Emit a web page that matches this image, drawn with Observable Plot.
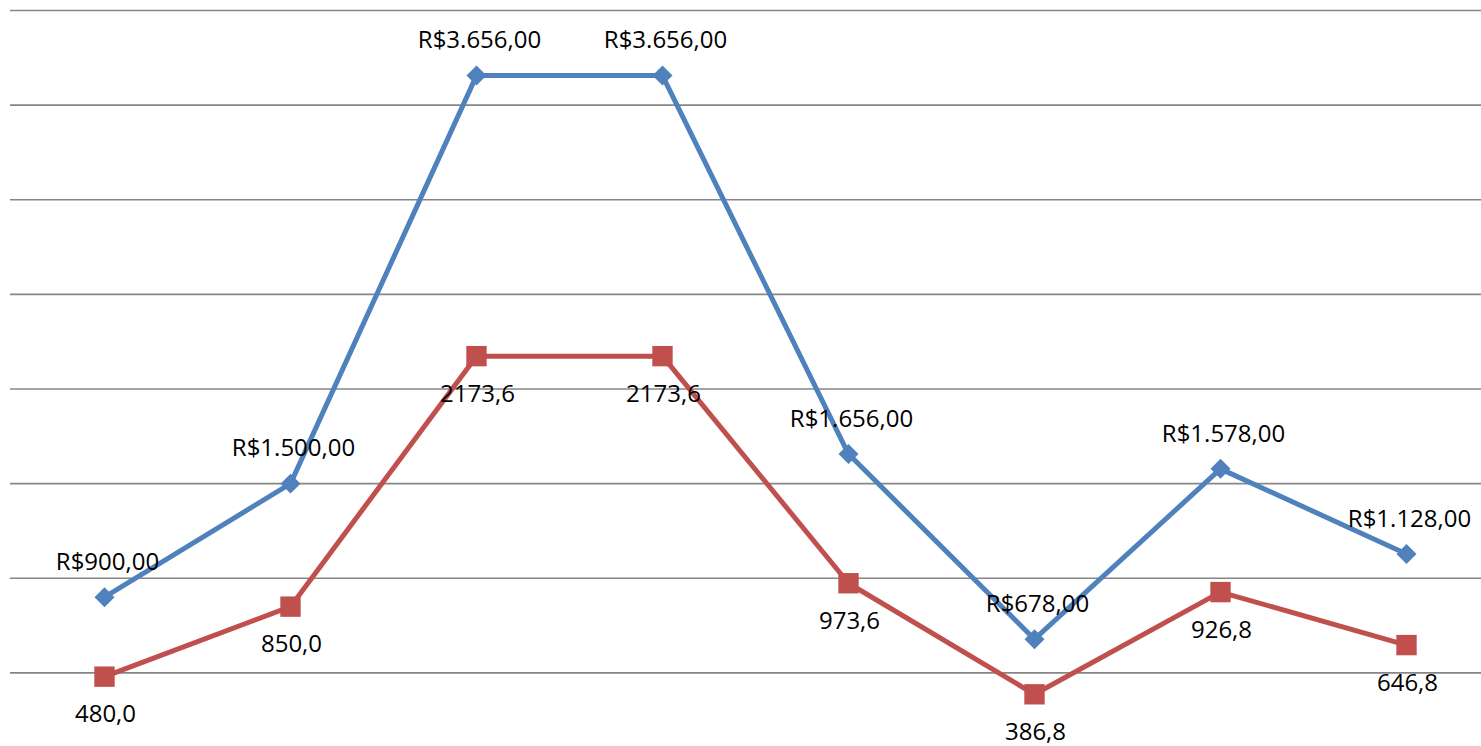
<!DOCTYPE html>
<html>
<head>
<meta charset="utf-8">
<script src="https://cdn.jsdelivr.net/npm/d3@7"></script>
<script src="https://cdn.jsdelivr.net/npm/@observablehq/plot@0.6"></script>
<style>
  html, body { margin: 0; padding: 0; background: #ffffff; overflow: hidden; }
</style>
</head>
<body>
<div id="chart"></div>
<script>
const categories = ["1", "2", "3", "4", "5", "6", "7", "8"];
const blueValues = [900, 1500, 3656, 3656, 1656, 678, 1578, 1128];
const redValues = [480, 850, 2173.6, 2173.6, 973.6, 386.8, 926.8, 646.8];
const gridTicks = [500, 1000, 1500, 2000, 2500, 3000, 3500, 4000];

const blue = categories.map((c, i) => ({cat: c, v: blueValues[i]}));
const red = categories.map((c, i) => ({cat: c, v: redValues[i]}));

const fmtBlue = v => "R$" + v.toLocaleString("pt-BR", {minimumFractionDigits: 2, maximumFractionDigits: 2});
const fmtRed = v => v.toFixed(1).replace(".", ",");

const BLUE = "#4F81BD", RED = "#C0504D";

const chart = Plot.plot({
  width: 1481,
  height: 746,
  marginLeft: 10,
  marginRight: 0,
  marginTop: 0,
  marginBottom: 0,
  style: {fontFamily: "'Open Sans', sans-serif", background: "#ffffff", overflow: "hidden"},
  x: {type: "point", domain: categories, range: [103, 1406], padding: 0, axis: null},
  y: {domain: [0, 4000], range: [767, 10], axis: null},
  marks: [
    Plot.ruleY(gridTicks, {stroke: "#868686", strokeWidth: 1.6}),
    Plot.line(blue, {x: "cat", y: "v", stroke: BLUE, strokeWidth: 5}),
    Plot.line(red, {x: "cat", y: "v", stroke: RED, strokeWidth: 5}),
    Plot.dot(blue, {x: "cat", y: "v", symbol: "diamond2", r: 9, fill: BLUE, stroke: "none"}),
    Plot.dot(red, {x: "cat", y: "v", symbol: "square", r: 11.5, fill: RED, stroke: "none"}),
    Plot.text(blue, {x: "cat", y: "v", text: d => fmtBlue(d.v), dy: -35, dx: 3, fontSize: 24, fill: "#000", lineAnchor: "middle"}),
    Plot.text(red, {x: "cat", y: "v", text: d => fmtRed(d.v), dy: 38, dx: 1, fontSize: 24, fill: "#000", lineAnchor: "middle"})
  ]
});
document.getElementById("chart").appendChild(chart);
</script>
</body>
</html>
